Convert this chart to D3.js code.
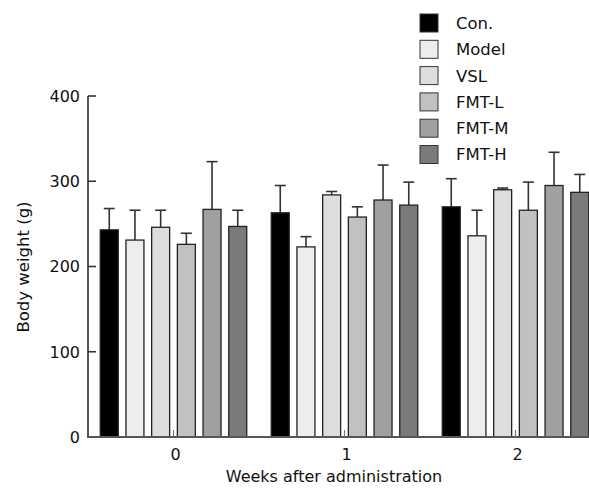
<!DOCTYPE html>
<html>
<head>
<meta charset="utf-8">
<script src="https://cdn.jsdelivr.net/npm/d3@7"></script>
<style>
  body { margin: 0; background: #fff; }
  text { font-family: "DejaVu Sans", sans-serif; fill: #111; }
</style>
</head>
<body>
<div id="chart"></div>
<script>
// 数据
const weeks = ['0', '1', '2'];
const groups = ['Con.', 'Model', 'VSL', 'FMT-L', 'FMT-M', 'FMT-H'];
const fills = ['#000000', '#eceeed', '#dcdedd', '#c0c1c0', '#a0a0a0', '#7a7a7a'];
// 均值（每周，按组）
const means = [
    [243, 231, 246, 226, 267, 247],
    [263, 223, 284, 258, 278, 272],
    [270, 236, 290, 266, 295, 287]
];
// 标准差（只画上半）
const sds = [
    [25, 35, 20, 13, 56, 19],
    [32, 12, 4, 12, 41, 27],
    [33, 30, 2, 33, 39, 21]
];
const yTicks = [0, 100, 200, 300, 400];

const width = 589;
const height = 488;
const margin = {left: 88, top: 96, bottom: 437};

const svg = d3.select('#chart').append('svg')
    .attr('width', width)
    .attr('height', height);

const y = d3.scaleLinear().domain([0, 400]).range([margin.bottom, margin.top]);
const x0 = d3.scaleBand().domain(weeks).range([margin.left, 601]);
const x1 = d3.scaleBand().domain(groups).range([0, x0.bandwidth()])
    .paddingInner(0.3).paddingOuter(0.477);

// 柱子
const g = svg.append('g');
weeks.forEach((w, wi) => {
    const wg = g.append('g').attr('transform', `translate(${x0(w)},0)`);
    const rows = groups.map((name, gi) => ({name, gi, v: means[wi][gi], sd: sds[wi][gi]}));

    // 误差线
    wg.selectAll('line.err')
        .data(rows)
        .enter()
        .append('line')
        .attr('class', 'err')
        .attr('x1', d => x1(d.name) + x1.bandwidth() / 2)
        .attr('x2', d => x1(d.name) + x1.bandwidth() / 2)
        .attr('y1', d => y(d.v))
        .attr('y2', d => y(d.v + d.sd))
        .attr('stroke', '#333')
        .attr('stroke-width', 1.6);
    wg.selectAll('line.cap')
        .data(rows)
        .enter()
        .append('line')
        .attr('class', 'cap')
        .attr('x1', d => x1(d.name) + x1.bandwidth() / 2 - 5.5)
        .attr('x2', d => x1(d.name) + x1.bandwidth() / 2 + 5.5)
        .attr('y1', d => y(d.v + d.sd))
        .attr('y2', d => y(d.v + d.sd))
        .attr('stroke', '#333')
        .attr('stroke-width', 1.6);

    wg.selectAll('rect')
        .data(rows)
        .enter()
        .append('rect')
        .attr('x', d => x1(d.name))
        .attr('y', d => y(d.v))
        .attr('width', x1.bandwidth())
        .attr('height', d => y(0) - y(d.v))
        .attr('fill', d => fills[d.gi])
        .attr('stroke', '#222')
        .attr('stroke-width', 1.3);
});

// y 轴
const yAxis = svg.append('g');
yAxis.append('line')
    .attr('x1', margin.left).attr('x2', margin.left)
    .attr('y1', y(400)).attr('y2', y(0))
    .attr('stroke', '#555').attr('stroke-width', 2);
yAxis.selectAll('line.tick')
    .data(yTicks)
    .enter()
    .append('line')
    .attr('class', 'tick')
    .attr('x1', margin.left).attr('x2', margin.left + 8)
    .attr('y1', d => y(d)).attr('y2', d => y(d))
    .attr('stroke', '#333').attr('stroke-width', 1.6);
yAxis.selectAll('text')
    .data(yTicks)
    .enter()
    .append('text')
    .attr('x', margin.left - 8)
    .attr('y', d => y(d))
    .attr('dy', '0.36em')
    .attr('text-anchor', 'end')
    .attr('font-size', '16px')
    .text(d => d);

// x 轴
const xAxis = svg.append('g');
xAxis.append('line')
    .attr('x1', margin.left - 1).attr('x2', width)
    .attr('y1', y(0)).attr('y2', y(0))
    .attr('stroke', '#555').attr('stroke-width', 2);
xAxis.selectAll('line.tick')
    .data(weeks)
    .enter()
    .append('line')
    .attr('class', 'tick')
    .attr('x1', d => x0(d) + x0.bandwidth() / 2)
    .attr('x2', d => x0(d) + x0.bandwidth() / 2)
    .attr('y1', y(0)).attr('y2', y(0) - 7)
    .attr('stroke', '#777').attr('stroke-width', 1.2);
xAxis.selectAll('text')
    .data(weeks)
    .enter()
    .append('text')
    .attr('x', d => x0(d) + x0.bandwidth() / 2 + 2)
    .attr('y', 460)
    .attr('text-anchor', 'middle')
    .attr('font-size', '16px')
    .text(d => d);

// 轴标题
svg.append('text')
    .attr('x', 334)
    .attr('y', 482)
    .attr('text-anchor', 'middle')
    .attr('font-size', '16px')
    .text('Weeks after administration');
svg.append('text')
    .attr('transform', 'translate(29,267) rotate(-90)')
    .attr('text-anchor', 'middle')
    .attr('font-size', '16.5px')
    .text('Body weight (g)');

// 图例
const legend = svg.append('g').attr('transform', 'translate(420,0)');
const lg = legend.selectAll('g')
    .data(groups)
    .enter()
    .append('g')
    .attr('transform', (d, i) => `translate(0,${23 + i * 26.3})`);
lg.append('rect')
    .attr('x', 0).attr('y', -9)
    .attr('width', 18).attr('height', 18)
    .attr('fill', (d, i) => fills[i])
    .attr('stroke', '#333')
    .attr('stroke-width', 1);
lg.append('text')
    .attr('x', 36)
    .attr('dy', '0.36em')
    .attr('font-size', '16.5px')
    .text(d => d);
</script>
</body>
</html>
